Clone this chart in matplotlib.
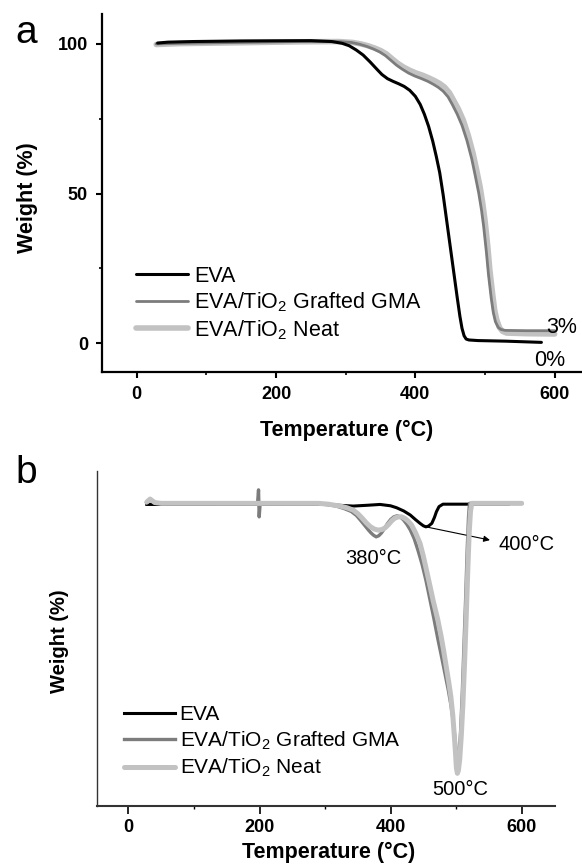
import matplotlib
matplotlib.use("Agg")
import matplotlib.pyplot as plt
from matplotlib.ticker import MultipleLocator, NullLocator

plt.rcParams['font.family'] = ['Liberation Sans', 'DejaVu Sans']
plt.rcParams['mathtext.fontset'] = 'custom'
plt.rcParams['mathtext.rm'] = 'Liberation Sans'
plt.rcParams['mathtext.it'] = 'Liberation Sans'
plt.rcParams['mathtext.bf'] = 'Liberation Sans:bold'

# ---------------- Panel a: TGA ----------------
labels = ["EVA", r"EVA/TiO$_2$ Grafted GMA", r"EVA/TiO$_2$ Neat"]

eva_T = [30, 45, 80, 150, 250, 280, 295, 305, 315, 325, 335, 345, 352, 360, 368, 376, 384, 392, 400, 407, 413, 419,
         425, 430, 435, 440, 445, 450, 455, 460, 464, 467, 470, 473, 477, 490, 530, 581]
eva_W = [100.3, 100.6, 100.8, 101.0, 101.1, 100.8, 100.2, 99.4, 98.0, 96.3, 94.0, 91.5, 89.8, 88.4, 87.5, 86.7, 85.8, 84.5,
         82.5, 79.8, 76.5, 72.5, 67.5, 62.5, 57.0, 49.5, 41.0, 32.5, 24.0, 15.5, 9.0, 5.0, 2.5, 1.4, 1.1, 0.9, 0.7, 0.3]

gma_T = [28, 60, 150, 234, 290, 308, 320, 330, 340, 349, 357, 365, 373, 381, 390, 399, 409, 418, 426, 433, 440, 447,
         453, 460, 467, 474, 481, 486, 491, 495, 498, 502, 505, 509, 512, 515, 519, 523, 529, 560, 600]
gma_W = [100.0, 100.2, 100.5, 100.8, 100.8, 100.5, 99.9, 99.2, 98.3, 97.3, 96.1, 94.5, 92.9, 91.6, 90.3, 89.3, 88.4, 87.5,
         86.5, 85.5, 84.2, 82.3, 79.8, 76.6, 72.8, 67.8, 61.6, 56.0, 50.2, 44.5, 39.2, 30.5, 23.0, 15.0, 10.2, 7.2, 5.3, 4.6, 4.3, 4.2, 4.2]

neat_T = [28, 60, 150, 234, 290, 310, 322, 332, 342, 351, 359, 367, 375, 383, 392, 401, 411, 420, 428, 435, 442, 449,
          455, 462, 469, 476, 483, 488, 493, 497, 500, 504, 507, 511, 514, 517, 521, 525, 531, 560, 600]
neat_W = [99.8, 100.1, 100.4, 100.7, 100.8, 100.5, 100.0, 99.4, 98.6, 97.7, 96.6, 95.0, 93.5, 92.3, 91.2, 90.3, 89.5, 88.6,
          87.7, 86.8, 85.6, 83.7, 81.2, 78.2, 74.5, 69.5, 63.4, 58.0, 52.3, 46.5, 41.2, 32.5, 24.5, 16.5, 11.0, 7.8, 5.2, 4.0, 3.4, 3.2, 3.1]

# ---------------- Panel b: DTG (arbitrary units) ----------------
eva_T2 = [28, 100, 290, 320, 343, 365, 384, 400, 409, 420, 430, 438, 445, 450, 454, 458, 463, 467, 470, 474, 480, 580]
eva_D2 = [-0.4, -0.4, -0.3, -0.7, -1.0, -0.7, -0.4, -0.9, -1.6, -2.8, -4.3, -6.0, -7.4, -8.3, -8.7, -8.4, -7.4, -5.2, -3.1, -1.2, -0.3, -0.3]

gma_T2 = [28, 33, 40, 50, 197, 198.5, 199.5, 201, 290, 305, 320, 330, 340, 348, 355, 361, 366, 370, 374, 378, 382, 386, 390,
          395, 400, 405, 410, 415, 420, 425, 430, 436, 442, 448, 454, 460, 466, 472, 478, 483, 488, 492, 495, 497.5, 500,
          502, 503.5, 505, 507, 509.5, 512, 514.5, 517, 519, 520.5, 600]
gma_D2 = [0.3, 1.2, 0.2, 0, 0, 5.0, -5.0, 0, 0, -0.4, -1.2, -2.0, -3.0, -4.5, -6.5, -8.3, -9.8, -10.9, -11.8, -12.4, -12.0, -11.0, -9.6,
          -7.6, -6.0, -5.0, -4.6, -5.0, -6.2, -7.8, -9.8, -13.0, -17.5, -22.5, -28.5, -35.5, -42.5, -50.0, -57.0, -63.0, -69.0, -74.5, -79.5, -85.0, -91.0,
          -94.5, -95.0, -92.0, -84.0, -70.0, -53.0, -36.0, -17.0, -5.0, 0, 0]

neat_T2 = [28, 33, 40, 50, 290, 305, 315, 323, 333, 343, 350, 356, 363, 369, 375, 381, 387, 392, 397, 402, 407, 412, 417,
           422, 427, 432, 438, 445, 450, 456, 461, 465, 472, 477, 481, 485, 489, 492, 495, 497, 499, 500.5, 502, 503.5,
           505.5, 508, 510.5, 513, 515.5, 518, 520, 522, 524, 600]
neat_D2 = [0.5, 1.6, 0.3, 0, 0, -0.3, -0.7, -1.0, -1.6, -2.5, -3.8, -5.3, -7.2, -8.6, -9.5, -9.9, -9.7, -9.0, -7.8, -6.4, -5.4, -5.0, -5.0,
           -5.6, -6.6, -8.0, -10.8, -14.8, -19.5, -26.0, -31.5, -36.0, -43.0, -49.0, -54.5, -60.5, -66.5, -71.5, -78.5, -85.0, -92.0, -98.0, -100.0, -99.0,
           -95.0, -86.0, -74.0, -59.0, -42.0, -24.0, -11.0, -3.0, 0, 0]

c_eva = "#000000"
c_gma = "#7c7c7c"
c_neat = "#c2c2c2"

W, H = 582, 865
fig = plt.figure(figsize=(W / 100, H / 100), dpi=100)

# axes a
a_l, a_r, a_t, a_b = 101.9, 581.1, 14.0, 372.3
ax1 = fig.add_axes([a_l / W, 1 - a_b / H, (a_r - a_l) / W, (a_b - a_t) / H])
ax1.plot(neat_T, neat_W, color=c_neat, lw=4.0, solid_capstyle='round', solid_joinstyle='round', label=labels[2], zorder=2)
ax1.plot(gma_T, gma_W, color=c_gma, lw=2.0, solid_capstyle='round', solid_joinstyle='round', label=labels[1], zorder=3)
ax1.plot(eva_T, eva_W, color=c_eva, lw=2.2, solid_capstyle='round', solid_joinstyle='round', label=labels[0], zorder=4)
ax1.set_xlim(-50, 638)
ax1.set_ylim(-9.7, 110)
for s in ['top', 'right']:
    ax1.spines[s].set_visible(False)
for s in ['left', 'bottom']:
    ax1.spines[s].set_linewidth(1.6)
ax1.xaxis.set_major_locator(MultipleLocator(200))
ax1.xaxis.set_minor_locator(MultipleLocator(100))
ax1.yaxis.set_major_locator(MultipleLocator(50))
ax1.yaxis.set_minor_locator(MultipleLocator(25))
ax1.tick_params(which='major', length=4.5, width=1.5, direction='out', labelsize=13, pad=5.5)
ax1.tick_params(which='minor', length=2.2, width=1.2, direction='out')
for lab in ax1.get_xticklabels() + ax1.get_yticklabels():
    lab.set_fontweight('bold')
ax1.set_xlabel("Temperature (°C)", fontsize=15.5, fontweight='bold', va='center')
ax1.xaxis.set_label_coords((346.7 - a_l) / (a_r - a_l), (a_b - 430) / (a_b - a_t))
ax1.set_ylabel("Weight (%)", fontsize=15.5, fontweight='bold', va='center', ha='center')
ax1.yaxis.set_label_coords((28 - a_l) / (a_r - a_l), (a_b - 197.5) / (a_b - a_t))
h, l = ax1.get_legend_handles_labels()
ax1.legend(h[::-1], l[::-1], loc='upper left', bbox_to_anchor=((135.7 - a_l) / (a_r - a_l), (a_b - 266) / (a_b - a_t)),
           frameon=False, fontsize=15.5, handlelength=2.45, handletextpad=0.25, labelspacing=0.17,
           borderpad=0, borderaxespad=0)
ax1.text(610, 5.2, "3%", fontsize=15.5, ha='center', va='center')
ax1.text(593, -5.9, "0%", fontsize=15.5, ha='center', va='center')

# axes b
b_l, b_r, b_t, b_b = 96.7, 555.0, 470.7, 806.0
ax2 = fig.add_axes([b_l / W, 1 - b_b / H, (b_r - b_l) / W, (b_b - b_t) / H])
ax2.plot(eva_T2, eva_D2, color=c_eva, lw=2.2, solid_joinstyle='round', label=labels[0], zorder=2)
ax2.plot(gma_T2, gma_D2, color=c_gma, lw=2.4, solid_joinstyle='round', label=labels[1], zorder=3)
ax2.plot(neat_T2, neat_D2, color=c_neat, lw=3.6, solid_joinstyle='round', solid_capstyle='round', label=labels[2], zorder=4)
ax2.set_xlim(-48.5, 651)
ax2.set_ylim(-112.1, 12.1)
for s in ['top', 'right']:
    ax2.spines[s].set_visible(False)
ax2.spines['left'].set_linewidth(1.0)
ax2.spines['left'].set_color('#333333')
ax2.spines['bottom'].set_linewidth(1.5)
ax2.spines['bottom'].set_color('#333333')
ax2.xaxis.set_major_locator(MultipleLocator(200))
ax2.xaxis.set_minor_locator(MultipleLocator(100))
ax2.yaxis.set_major_locator(NullLocator())
ax2.yaxis.set_minor_locator(NullLocator())
ax2.tick_params(axis='x', which='major', length=5.5, width=1.2, direction='out', labelsize=13, pad=4)
ax2.tick_params(axis='x', which='minor', length=2.2, width=1.0, direction='out')
for lab in ax2.get_xticklabels():
    lab.set_fontweight('bold')
ax2.set_xlabel("Temperature (°C)", fontsize=15.5, fontweight='bold', va='center')
ax2.xaxis.set_label_coords((329 - b_l) / (b_r - b_l), (b_b - 852) / (b_b - b_t))
ax2.set_ylabel("Weight (%)", fontsize=14.5, fontweight='bold', va='center', ha='center')
ax2.yaxis.set_label_coords((59.5 - b_l) / (b_r - b_l), (b_b - 641) / (b_b - b_t))
h2, l2 = ax2.get_legend_handles_labels()
ax2.legend(h2, l2, loc='upper left', bbox_to_anchor=((124.5 - b_l) / (b_r - b_l), (b_b - 705) / (b_b - b_t)),
           frameon=False, fontsize=15, handlelength=2.4, handletextpad=0.25, labelspacing=0.26,
           borderpad=0, borderaxespad=0)
ax2.annotate("", xy=(551.7, -13.6), xytext=(454, -8.7),
             arrowprops=dict(arrowstyle='-|>', color='black', lw=0.8, mutation_scale=9, shrinkA=0, shrinkB=0))
ax2.text(607.7, -15.1, "400°C", fontsize=14.5, ha='center', va='center')
ax2.text(373.6, -20.6, "380°C", fontsize=14.5, ha='center', va='center')
ax2.text(505.9, -106.0, "500°C", fontsize=14.5, ha='center', va='center')

fig.text(15 / W, 1 - 43 / H, "a", fontsize=28, va='baseline', ha='left')
fig.text(15 / W, 1 - 483 / H, "b", fontsize=28, va='baseline', ha='left')

fig.savefig("out.png", dpi=100)
